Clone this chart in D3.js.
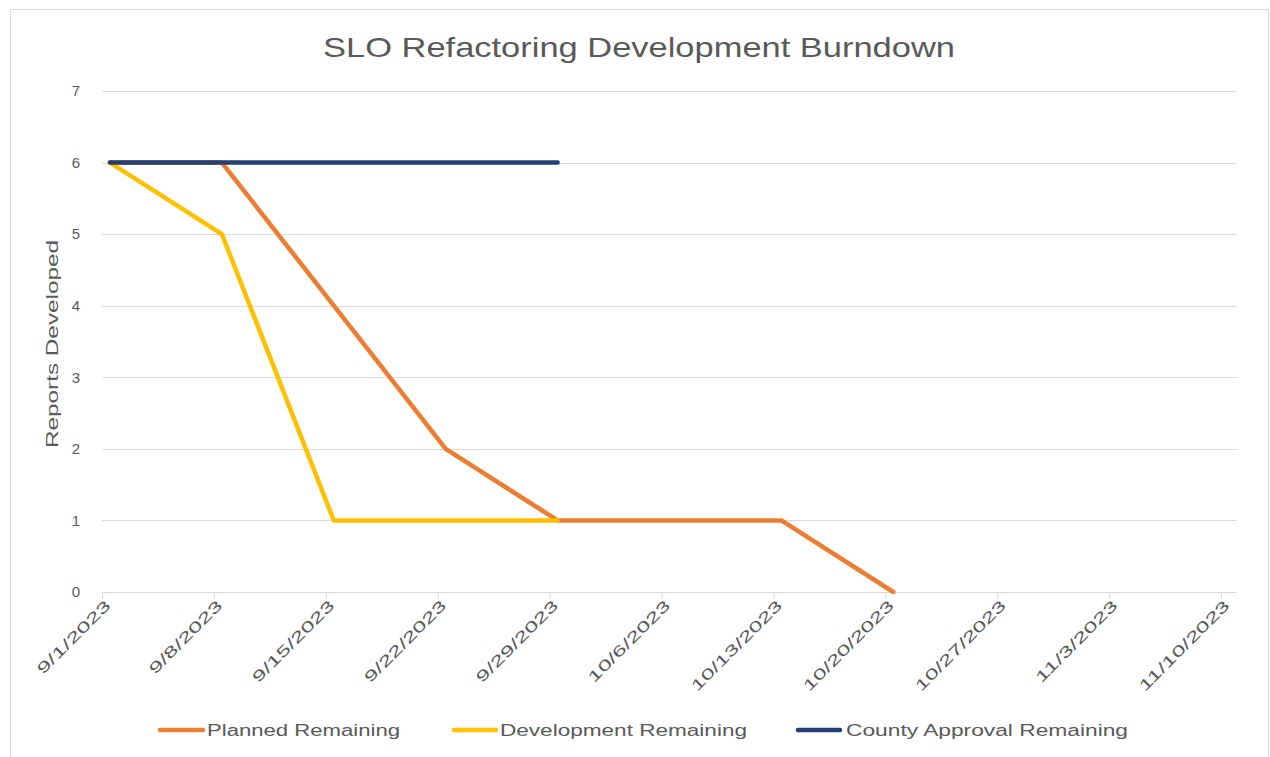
<!DOCTYPE html>
<html>
<head>
<meta charset="utf-8">
<script src="https://cdn.jsdelivr.net/npm/d3@7"></script>
<style>
  html, body { margin: 0; padding: 0; background: #fff; }
  svg { display: block; }
  text { font-family: "Liberation Sans", "DejaVu Sans", sans-serif; fill: #595959; }
</style>
</head>
<body>
<svg id="chart" width="1270" height="757"></svg>
<script>
// ---- data ----
const title = "SLO Refactoring Development Burndown";
const yTitle = "Reports Developed";
const dates = ["9/1/2023","9/8/2023","9/15/2023","9/22/2023","9/29/2023","10/6/2023","10/13/2023","10/20/2023"];
const planned = [6, 6, 4, 2, 1, 1, 1, 0];
const development = [6, 5, 1, 1, 1, null, null, null];
const county = [6, 6, 6, 6, 6, null, null, null];
const tickLabels = ["9/1/2023","9/8/2023","9/15/2023","9/22/2023","9/29/2023","10/6/2023","10/13/2023","10/20/2023","10/27/2023","11/3/2023","11/10/2023"];
const yTicks = [0, 1, 2, 3, 4, 5, 6, 7];
const seriesNames = ["Planned Remaining", "Development Remaining", "County Approval Remaining"];
const seriesColors = ["#ED7D31", "#FFC000", "#233F74"];

// ---- setup ----
const parse = d3.utcParse("%m/%d/%Y");
const svg = d3.select("#chart");
const plotLeft = 102, plotRight = 1237, plotTop = 91, plotBottom = 592;

svg.append("rect").attr("x", 10.5).attr("y", 9.5).attr("width", 1258).attr("height", 770)
  .attr("fill", "#fff").attr("stroke", "#d9d9d9").attr("stroke-width", 1);

const x = d3.scaleUtc()
  .domain([parse(tickLabels[0]), d3.utcDay.offset(parse(tickLabels[tickLabels.length - 1]), 1)])
  .range([plotLeft, plotRight]);
const y = d3.scaleLinear().domain([0, 7]).range([plotBottom, plotTop]);

// gridlines
svg.append("g").selectAll("line").data(yTicks.filter(d => d > 0)).join("line")
  .attr("x1", plotLeft).attr("x2", plotRight)
  .attr("y1", d => Math.round(y(d)) + 0.5).attr("y2", d => Math.round(y(d)) + 0.5)
  .attr("stroke", "#d9d9d9").attr("stroke-width", 1);

// x axis
const tickDates = tickLabels.map(parse);
const xAxis = d3.axisBottom(x).tickValues(tickDates).tickSize(6).tickFormat((d, i) => tickLabels[i]);
const gx = svg.append("g").attr("transform", `translate(0,${Math.round(plotBottom) + 0.5})`).call(xAxis);
gx.select(".domain").attr("stroke", "#d9d9d9").attr("d", `M${plotLeft},0H${plotRight}`);
gx.selectAll(".tick line").attr("stroke", "#d9d9d9");
gx.selectAll(".tick text")
  .attr("font-size", 15)
  .attr("text-anchor", "end")
  .attr("dy", 0)
  .attr("transform", "translate(9,14) rotate(-45)")
  .attr("x", 0).attr("y", 0)
  .attr("textLength", (d, i) => tickLabels[i].length * 12.1)
  .attr("lengthAdjust", "spacingAndGlyphs")
  .style("fill", "#595959");

// y axis
const yAxis = d3.axisLeft(y).tickValues(yTicks).tickSize(0).tickPadding(22).tickFormat(d3.format("d"));
const gy = svg.append("g").attr("transform", `translate(${plotLeft},0)`).call(yAxis);
gy.select(".domain").remove();
gy.selectAll(".tick text").attr("font-size", 15).style("fill", "#595959");

// lines
const seriesData = [planned, development, county];
const line = d3.line()
  .defined(d => d.v !== null)
  .x(d => x(d3.utcHour.offset(parse(d.date), 12)))
  .y(d => y(d.v));
seriesData.forEach((vals, i) => {
  const pts = vals.map((v, j) => ({ date: dates[j], v }));
  svg.append("path").datum(pts)
    .attr("d", line)
    .attr("fill", "none")
    .attr("stroke", seriesColors[i])
    .attr("stroke-width", 4.5)
    .attr("stroke-linejoin", "round")
    .attr("stroke-linecap", "round");
});

// title
svg.append("text").attr("x", 639).attr("y", 57)
  .attr("text-anchor", "middle").attr("font-size", 28)
  .attr("textLength", 632).attr("lengthAdjust", "spacingAndGlyphs")
  .text(title);

// y title
svg.append("text").attr("transform", "translate(58,344) rotate(-90)")
  .attr("text-anchor", "middle").attr("font-size", 16)
  .attr("textLength", 208).attr("lengthAdjust", "spacingAndGlyphs")
  .text(yTitle);

// legend
const legendItems = [
  { sx: 158, ex: 205, tx: 207, tl: 193 },
  { sx: 452, ex: 498, tx: 500, tl: 247 },
  { sx: 796, ex: 842, tx: 846, tl: 282 }
];
const lg = svg.append("g");
legendItems.forEach((it, i) => {
  lg.append("line").attr("x1", it.sx + 2).attr("x2", it.ex - 2).attr("y1", 730).attr("y2", 730)
    .attr("stroke", seriesColors[i]).attr("stroke-width", 4.5).attr("stroke-linecap", "round");
  lg.append("text").attr("x", it.tx).attr("y", 736).attr("font-size", 16)
    .attr("textLength", it.tl).attr("lengthAdjust", "spacingAndGlyphs")
    .text(seriesNames[i]);
});
</script>
</body>
</html>
